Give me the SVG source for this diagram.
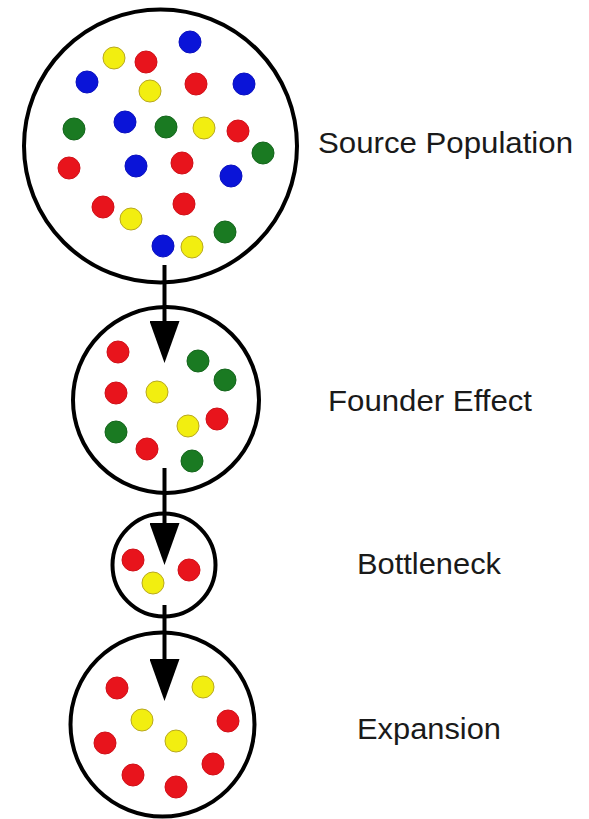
<svg xmlns="http://www.w3.org/2000/svg" width="589" height="819" viewBox="0 0 589 819">
<style>
.pop{fill:#fff;stroke:#000;stroke-width:4}
.r{fill:#e8141c;stroke:#d01018;stroke-width:1}
.b{fill:#0a14d8;stroke:#0a10c0;stroke-width:1}
.g{fill:#1a7a22;stroke:#14661c;stroke-width:1}
.y{fill:#f2ee10;stroke:#b8a820;stroke-width:1}
.lbl{font-family:"Liberation Sans",Arial,sans-serif;font-size:30px;fill:#1a1a1a}
.edge{stroke:#000;stroke-width:4;fill:none}
</style>
<defs>
<marker id="ah" markerUnits="userSpaceOnUse" markerWidth="42" markerHeight="30" refX="2" refY="15" orient="auto" viewBox="0 0 42 30">
<path d="M0,0 L42,15 L0,30 Z" fill="#000"/>
</marker>
</defs>
<rect width="589" height="819" fill="#fff"/>

<g id="source">
<circle class="pop" cx="160.5" cy="146" r="136.5"/>
<circle class="b" cx="190" cy="42" r="11"/>
<circle class="y" cx="114" cy="58" r="11"/>
<circle class="r" cx="146" cy="62" r="11"/>
<circle class="b" cx="87" cy="82" r="11"/>
<circle class="y" cx="150" cy="91" r="11"/>
<circle class="r" cx="196" cy="84" r="11"/>
<circle class="b" cx="244" cy="84" r="11"/>
<circle class="g" cx="74" cy="129" r="11"/>
<circle class="b" cx="125" cy="122" r="11"/>
<circle class="g" cx="166" cy="127" r="11"/>
<circle class="y" cx="204" cy="128" r="11"/>
<circle class="r" cx="238" cy="131" r="11"/>
<circle class="g" cx="263" cy="153" r="11"/>
<circle class="r" cx="69" cy="168" r="11"/>
<circle class="b" cx="136" cy="166" r="11"/>
<circle class="r" cx="182" cy="163" r="11"/>
<circle class="b" cx="231" cy="176" r="11"/>
<circle class="r" cx="103" cy="207" r="11"/>
<circle class="y" cx="131" cy="219" r="11"/>
<circle class="r" cx="184" cy="204" r="11"/>
<circle class="g" cx="225" cy="232" r="11"/>
<circle class="b" cx="163" cy="246" r="11"/>
<circle class="y" cx="192" cy="247" r="11"/>
<text class="lbl" x="318" y="153" textLength="255" lengthAdjust="spacingAndGlyphs">Source Population</text>
</g>

<g id="founder">
<circle class="pop" cx="166" cy="400" r="93"/>
<circle class="r" cx="118" cy="352" r="11"/>
<circle class="g" cx="198" cy="361" r="11"/>
<circle class="g" cx="225" cy="380" r="11"/>
<circle class="r" cx="116" cy="393" r="11"/>
<circle class="y" cx="157" cy="392" r="11"/>
<circle class="r" cx="217" cy="419" r="11"/>
<circle class="y" cx="188" cy="426" r="11"/>
<circle class="g" cx="116" cy="432" r="11"/>
<circle class="r" cx="147" cy="449" r="11"/>
<circle class="g" cx="192" cy="461" r="11"/>
<text class="lbl" x="328" y="411" textLength="204" lengthAdjust="spacingAndGlyphs">Founder Effect</text>
</g>

<g id="bottleneck">
<circle class="pop" cx="164" cy="565" r="51.5"/>
<circle class="r" cx="133" cy="560" r="11"/>
<circle class="r" cx="189" cy="570" r="11"/>
<circle class="y" cx="153" cy="583" r="11"/>
<text class="lbl" x="357" y="574" textLength="144" lengthAdjust="spacingAndGlyphs">Bottleneck</text>
</g>

<g id="expansion">
<circle class="pop" cx="162.5" cy="724.5" r="92"/>
<circle class="r" cx="117" cy="688" r="11"/>
<circle class="y" cx="203" cy="687" r="11"/>
<circle class="y" cx="142" cy="720" r="11"/>
<circle class="r" cx="228" cy="721" r="11"/>
<circle class="r" cx="105" cy="743" r="11"/>
<circle class="y" cx="176" cy="741" r="11"/>
<circle class="r" cx="213" cy="764" r="11"/>
<circle class="r" cx="133" cy="775" r="11"/>
<circle class="r" cx="176" cy="787" r="11"/>
<text class="lbl" x="357" y="739" textLength="144" lengthAdjust="spacingAndGlyphs">Expansion</text>
</g>

<g id="connectors">
<line class="edge" x1="164.5" y1="265" x2="164.5" y2="323" marker-end="url(#ah)"/>
<line class="edge" x1="164.5" y1="468" x2="164.5" y2="525" marker-end="url(#ah)"/>
<line class="edge" x1="164.5" y1="605" x2="164.5" y2="661" marker-end="url(#ah)"/>
</g>
</svg>
